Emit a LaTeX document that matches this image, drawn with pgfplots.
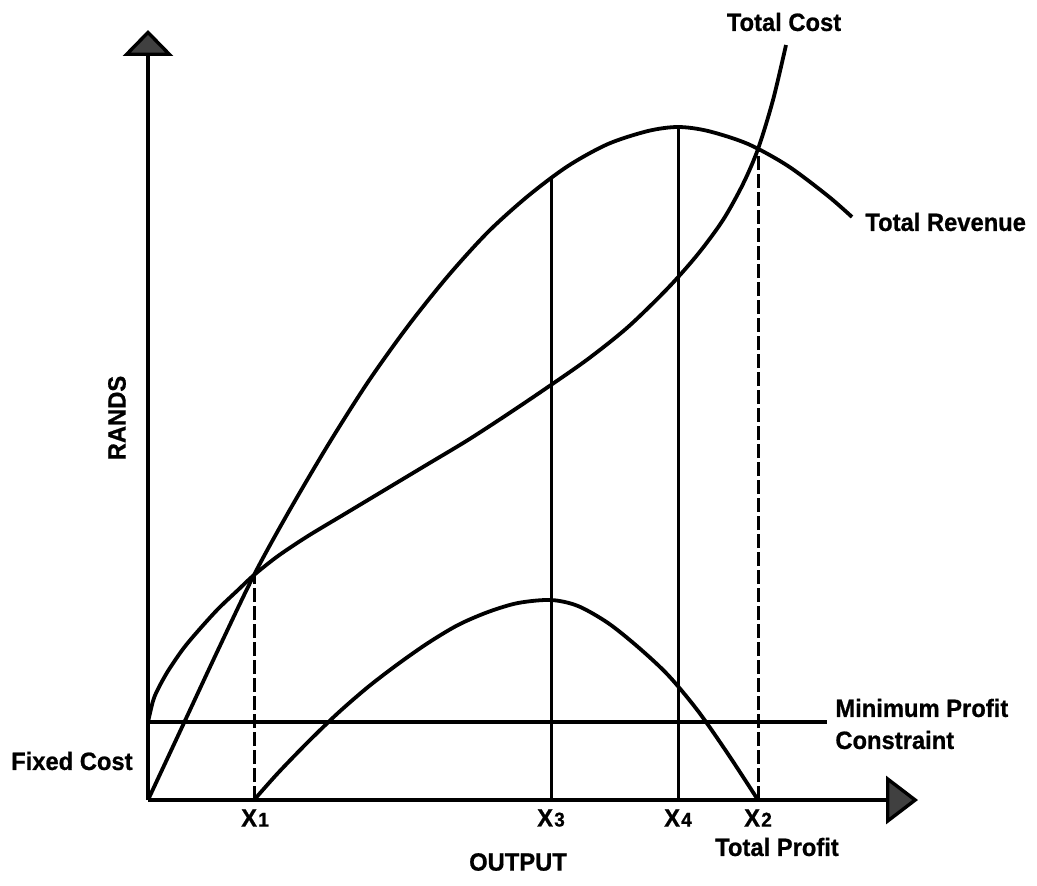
\documentclass[border=0pt]{standalone}
\usepackage{fontspec}
\setmainfont{Liberation Sans}[FakeStretch=0.95, BoldFeatures={FakeBold=0.8}]
\usepackage{pgfplots}
\pgfplotsset{compat=1.18}
\usetikzlibrary{arrows.meta}
\newcommand\lbl{\bfseries\fontsize{12.5}{15}\selectfont}
\newcommand\xl[1]{X\kern0.6pt{\fontsize{10}{12}\selectfont #1}}
\begin{document}
\begin{tikzpicture}
\begin{axis}[scale only axis, width=518.5pt, height=442.5pt,
  xmin=-148, xmax=889, ymin=-85, ymax=800, hide axis, clip=false]
\path (rel axis cs:0,0) rectangle (rel axis cs:1,1);
% axes
\addplot[line width=1.7pt, -{Triangle[width=25pt,length=13pt,fill=black!75]}] coordinates {(0,0) (0,770)};
\addplot[line width=1.7pt, -{Triangle[width=24pt,length=16pt,fill=black!75]}] coordinates {(0,0) (770,0)};
% minimum profit constraint
\addplot[line width=1.6pt] coordinates {(0,78) (679,78)};
% vertical guides
\addplot[line width=1.5pt, dash pattern=on 7pt off 2pt] coordinates {(106,0) (106,225)};
\addplot[line width=1.5pt] coordinates {(403,0) (403,622)};
\addplot[line width=1.5pt] coordinates {(530,0) (530,673)};
\addplot[line width=1.5pt, dash pattern=on 7pt off 2pt] coordinates {(610,0) (610,651)};
% total revenue
\addplot[smooth, line width=1.9pt] coordinates {
(0,0) (35,75) (70,150) (106,225) (140,287) (180,355) (220,418) (260,474)
(300,524) (340,568) (380,604) (420,634) (460,656) (500,669) (530,673)
(560,669) (600,656) (640,634) (680,604) (704,583)};
% total cost
\addplot[smooth, line width=1.9pt] coordinates {
(0,78) (5,99) (10,111) (20,129) (35,151) (50,169) (70,191) (90,210) (106,225)
(130,244) (160,264) (200,288) (240,312) (280,336) (320,360) (360,386) (400,413)
(440,441) (480,473) (520,512) (550,546) (575,580) (595,616) (610,651) (625,700)
(638,755)};
% total profit
\addplot[smooth, line width=1.9pt] coordinates {
(106,0) (130,27) (160,58) (190,87) (220,113) (250,136) (280,157) (310,175)
(340,188) (370,197) (403,200) (430,194) (460,177) (490,153) (520,125)
(550,89) (580,46) (610,0)};
% labels
\node[inner sep=0, font=\lbl] at (axis cs:636,778) {Total Cost};
\node[inner sep=0, anchor=west, font=\lbl] at (axis cs:717,578) {Total Revenue};
\node[inner sep=0, rotate=90, font=\lbl] at (axis cs:-31,382) {RANDS};
\node[inner sep=0, anchor=west, font=\lbl] at (axis cs:687,92) {Minimum Profit};
\node[inner sep=0, anchor=west, font=\lbl] at (axis cs:687,60) {Constraint};
\node[inner sep=0, anchor=east, font=\lbl] at (axis cs:-15,39) {Fixed Cost};
\node[inner sep=0, font=\lbl] at (axis cs:107,-18) {\xl{1}};
\node[inner sep=0, font=\lbl] at (axis cs:403,-18) {\xl{3}};
\node[inner sep=0, font=\lbl] at (axis cs:530,-18) {\xl{4}};
\node[inner sep=0, font=\lbl] at (axis cs:610,-18) {\xl{2}};
\node[inner sep=0, font=\lbl] at (axis cs:629,-47) {Total Profit};
\node[inner sep=0, font=\lbl] at (axis cs:370,-62) {OUTPUT};
\end{axis}
\end{tikzpicture}
\end{document}
